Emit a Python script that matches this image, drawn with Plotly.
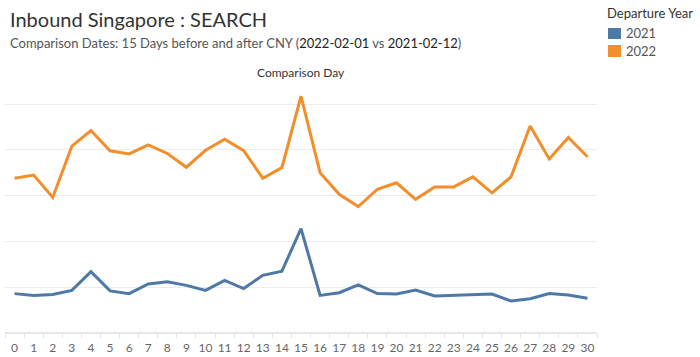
import plotly.graph_objects as go

days = list(range(0, 31))
series_2021 = [0.86, 0.82, 0.84, 0.93, 1.34, 0.92, 0.86, 1.07, 1.12, 1.04, 0.93, 1.15, 0.97, 1.26, 1.35, 2.28,
               0.82, 0.88, 1.05, 0.86, 0.85, 0.94, 0.81, 0.82, 0.83, 0.85, 0.70, 0.75, 0.86, 0.83, 0.76]
series_2022 = [3.38, 3.45, 2.96, 4.08, 4.42, 3.98, 3.91, 4.11, 3.92, 3.62, 3.99, 4.23, 3.98, 3.38, 3.61, 5.17,
               3.50, 3.03, 2.76, 3.14, 3.28, 2.92, 3.19, 3.19, 3.41, 3.06, 3.41, 4.52, 3.80, 4.27, 3.85]
years = ["2021", "2022"]
colors = {"2021": "#4e79a7", "2022": "#f28e2b"}

FONT = "Lato, 'Open Sans', sans-serif"

fig = go.Figure()
for yr, vals in zip(years, [series_2021, series_2022]):
    fig.add_trace(go.Scatter(x=days, y=vals, mode="lines", line=dict(color=colors[yr], width=3),
                             showlegend=False, name=yr))

fig.update_layout(
    width=700, height=357,
    margin=dict(l=5, r=103, t=88, b=24, autoexpand=False),
    paper_bgcolor="white", plot_bgcolor="white",
    font=dict(family=FONT, color="#333"),
    showlegend=False,
    xaxis=dict(range=[-0.5, 30.5], tickmode="array", tickvals=days, ticktext=[str(d) for d in days],
               tickfont=dict(size=12, color="#666"), showgrid=False, zeroline=False,
               ticks="", showline=False, automargin=False, ticklabelstandoff=6,
               minor=dict(tick0=0.5, dtick=1, ticks="outside", ticklen=4, tickcolor="#e3e3e3", showgrid=False)),
    yaxis=dict(range=[0, 5.35], tickvals=[0, 1, 2, 3, 4, 5], showticklabels=False, showgrid=True,
               gridcolor="#ececec", gridwidth=1, zeroline=True, zerolinecolor="#e6e6e6", ticks="",
               automargin=False),
)

fig.add_annotation(text="Inbound Singapore : SEARCH", xref="paper", yref="paper", x=0, y=1.225,
                   xanchor="left", yanchor="bottom", showarrow=False, font=dict(size=20, color="#333", family=FONT),
                   xshift=3)
fig.add_annotation(text="Comparison Dates: 15 Days before and after CNY (<span style='color:#222'>2022-02-01</span> vs <span style='color:#222'>2021-02-12</span>)",
                   xref="paper", yref="paper", x=0, y=1.144, xanchor="left", yanchor="bottom", showarrow=False,
                   font=dict(size=13, color="#555", family=FONT), xshift=3)
fig.add_annotation(text="Comparison Day", xref="paper", yref="paper", x=0.5, y=1.023, xanchor="center",
                   yanchor="bottom", showarrow=False, font=dict(size=12, color="#333", family=FONT))

# custom legend (Tableau-style square swatches)
fig.add_annotation(text="Departure Year", xref="paper", yref="paper", x=1.0186, y=1.306, xanchor="left",
                   yanchor="middle", showarrow=False, font=dict(size=13, color="#333", family=FONT), xshift=-3)
legend_y = {"2021": (1.20, 1.245), "2022": (1.1265, 1.1755)}
for yr in years:
    y0, y1 = legend_y[yr]
    fig.add_shape(type="rect", xref="paper", yref="paper", x0=1.0186, x1=1.0405, y0=y0, y1=y1,
                  fillcolor=colors[yr], line=dict(width=0))
    fig.add_annotation(text=yr, xref="paper", yref="paper", x=1.0507, y=(y0 + y1) / 2, xanchor="left",
                       yanchor="middle", showarrow=False, font=dict(size=13, color="#555", family=FONT), xshift=-3)

fig.write_html("out.html", config={"displayModeBar": False},
               post_script="document.body.style.margin='0';document.body.style.padding='0';")
